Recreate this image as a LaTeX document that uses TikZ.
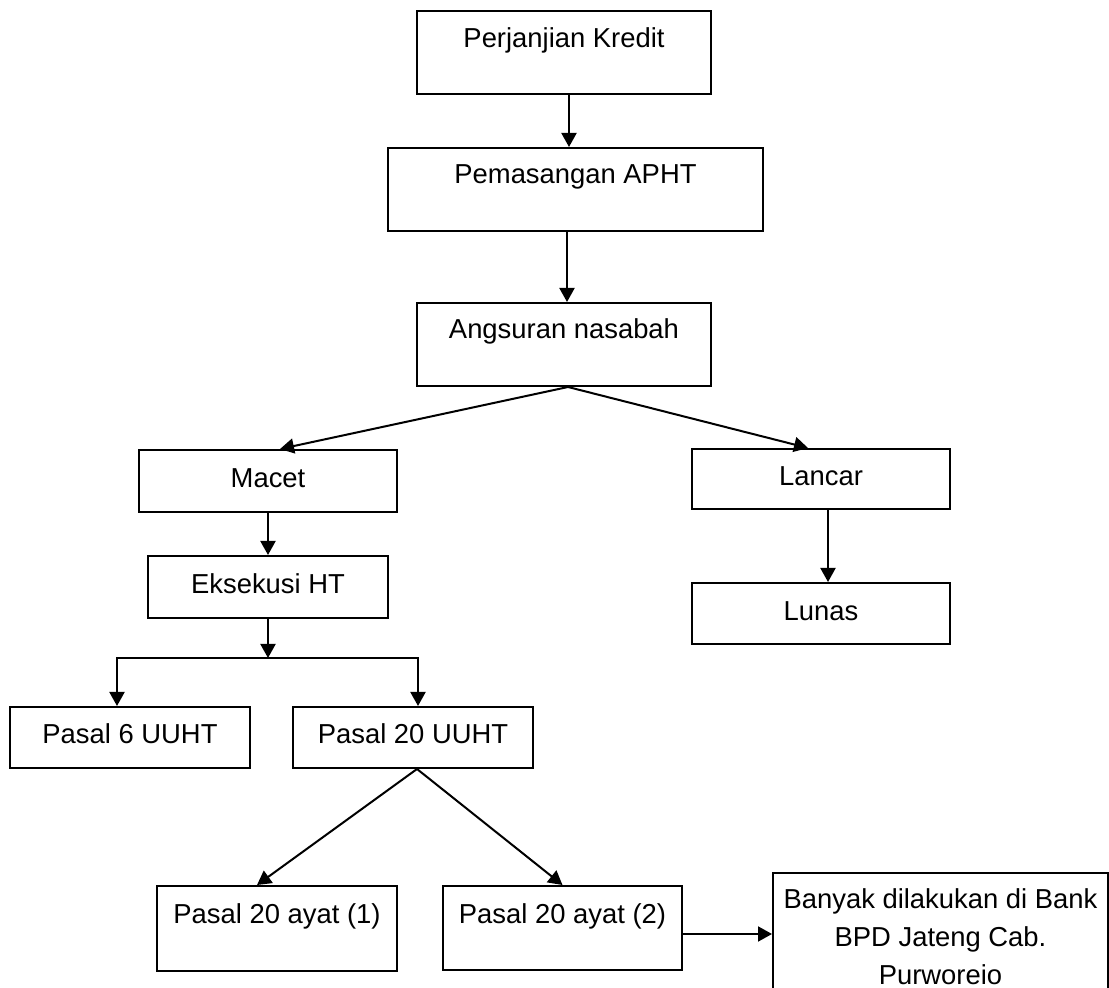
\documentclass[tikz,border=0pt]{standalone}
\usepackage{fontspec}
\setmainfont{Liberation Sans}
\usetikzlibrary{arrows.meta}
\tikzset{every node/.append style={font=\fontsize{13.7pt}{19pt}\selectfont}}

\begin{document}
\begin{tikzpicture}[x=0.5pt, y=-0.5pt, >={Triangle[width=7.5pt,length=7pt]},
    box/.style={draw, line width=1pt, inner sep=0pt, anchor=north},
    arr/.style={->, line width=1pt}]
    \useasboundingbox (0,0) rectangle (1109,988);
    \node[box, minimum width=147pt, text height=18.5pt, text depth=23pt] (kredit) at (564,10) {Perjanjian Kredit};
    \node[box, minimum width=187.5pt, text height=18pt, text depth=23.5pt] (apht) at (575.5,147) {Pemasangan APHT};
    \node[box, minimum width=147pt, text height=18pt, text depth=23.5pt] (angsuran) at (564,302) {Angsuran nasabah};
    \node[box, minimum width=129pt, text height=19pt, text depth=12pt] (macet) at (268,449) {Macet};
    \node[box, minimum width=129pt, text height=18.5pt, text depth=11.5pt] (lancar) at (821,448) {Lancar};
    \node[box, minimum width=120pt, text height=19pt, text depth=12pt] (eksekusi) at (268,555) {Eksekusi HT};
    \node[box, minimum width=129pt, text height=19pt, text depth=11.5pt] (lunas) at (821,582) {Lunas};
    \node[box, minimum width=120pt, text height=18.5pt, text depth=12pt] (psl6) at (130,706) {Pasal 6 UUHT};
    \node[box, minimum width=120pt, text height=18.5pt, text depth=12pt] (psl20) at (413,706) {Pasal 20 UUHT};
    \node[box, minimum width=120pt, text height=18.5pt, text depth=24pt] (ayat1) at (277,885) {Pasal 20 ayat (1)};
    \node[box, minimum width=119.5pt, text height=18.5pt, text depth=23.5pt] (ayat2) at (562.5,885) {Pasal 20 ayat (2)};
    \node[box, minimum width=167.5pt, minimum height=64pt, align=center] (bank) at (940.5,872)
        {Banyak dilakukan di Bank\\BPD Jateng Cab.\\Purworeio};
    \coordinate (cabang) at (268,658);

    \draw[arr] ([xshift=2.5pt]kredit.south) -- ([xshift=2.5pt]kredit.south |- apht.north);
    \draw[arr] ([xshift=1.5pt]angsuran.north |- apht.south) -- ([xshift=1.5pt]angsuran.north);
    \draw[arr] ([xshift=2pt]angsuran.south) -- ([xshift=6pt]macet.north);
    \draw[arr] ([xshift=2pt]angsuran.south) -- ([xshift=-6.5pt]lancar.north);
    \draw[arr] ([xshift=3.5pt]lancar.south) -- ([xshift=3.5pt]lancar.south |- lunas.north);
    \draw[arr] (macet.south) -- (eksekusi.north);
    \draw[arr] (eksekusi.south) -- (cabang);
    \draw[arr] (cabang) -| ([xshift=-6.5pt]psl6.north);
    \draw[arr] (cabang) -| ([xshift=2.5pt]psl20.north);
    \draw[arr] ([xshift=2pt]psl20.south) -- ([xshift=-10pt]ayat1.north);
    \draw[arr] ([xshift=2pt]psl20.south) -- (ayat2.north);
    \draw[arr] ([yshift=-3pt]ayat2.east) -- ([yshift=-3pt]ayat2.east -| bank.west);
\end{tikzpicture}
\end{document}
